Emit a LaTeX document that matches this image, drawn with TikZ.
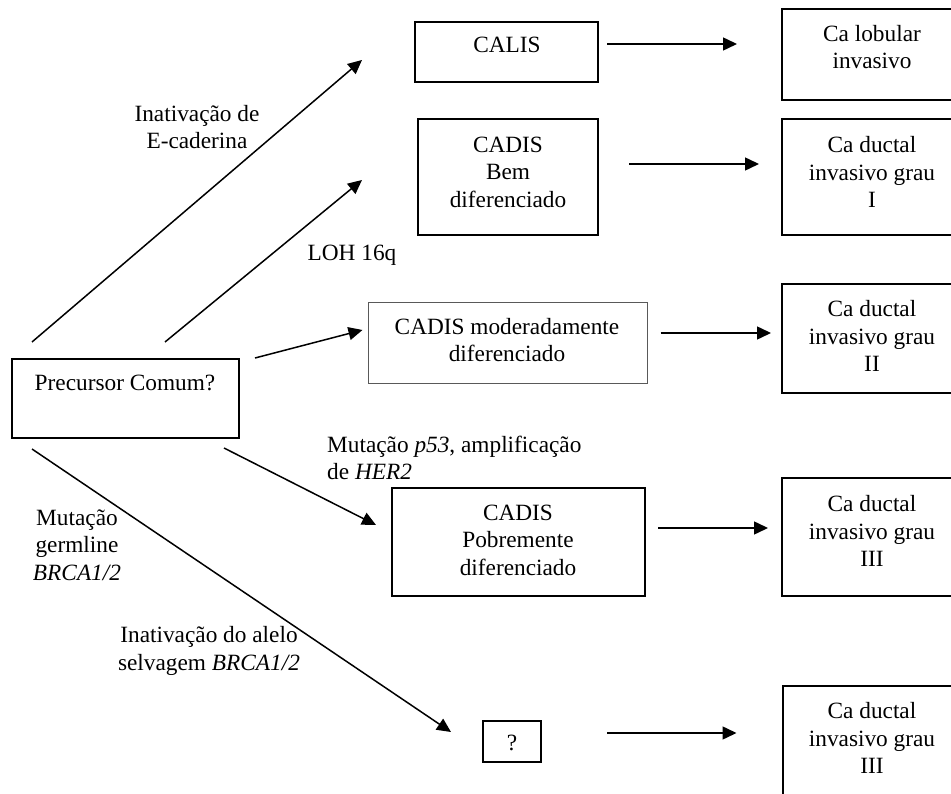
\documentclass[tikz,border=0pt]{standalone}
\usepackage{fontspec}
\setmainfont{Liberation Serif}
\usepackage{tikz}
\usetikzlibrary{arrows.meta}
\tikzstyle{every node}=[font=\fontsize{23.3}{27.5}\selectfont, inner sep=0pt]
\tikzstyle{caixa}=[draw, line width=2pt]
\tikzstyle{texto}=[align=center]
\tikzstyle{seta}=[line width=1.5pt, -{Triangle[length=14pt,width=13pt]}]

\begin{document}
\begin{tikzpicture}[x=1pt,y=-1pt]
\clip (0,0) rectangle (951,794);

% caixas
\node[caixa, minimum width=183pt, minimum height=60pt] (calis) at (506.5,52) {};
\node[caixa, minimum width=178pt, minimum height=91pt] (lob) at (871,54.5) {};
\node[caixa, minimum width=180pt, minimum height=116pt] (bem) at (508,177) {};
\node[caixa, minimum width=178pt, minimum height=116pt] (duct1) at (871,177) {};
\node[draw, gray!70!black, line width=1pt, minimum width=279pt, minimum height=81pt] (mod) at (507.5,343.5) {};
\node[caixa, minimum width=178pt, minimum height=109pt] (duct2) at (871,338.5) {};
\node[caixa, minimum width=227pt, minimum height=79pt] (prec) at (125.5,398.5) {};
\node[caixa, minimum width=253pt, minimum height=108pt] (pob) at (518.5,542) {};
\node[caixa, minimum width=178pt, minimum height=118pt] (duct3) at (871,537) {};
\node[caixa, minimum width=58pt, minimum height=41pt] (q) at (512,741.5) {};
\node[caixa, minimum width=178pt, minimum height=119pt] (duct4) at (871.5,745.5) {};

% textos das caixas
\node[texto] (calisT) at (507,45) {CALIS};
\node[texto] (lobT) at (872,47) {Ca lobular\\invasivo};
\node[texto] (bemT) at (508,172) {CADIS\\Bem\\diferenciado};
\node[texto] (duct1T) at (872,172) {Ca ductal\\invasivo grau\\I};
\node[texto] (modT) at (507,340) {CADIS moderadamente\\diferenciado};
\node[texto] (duct2T) at (872,336) {Ca ductal\\invasivo grau\\II};
\node[texto] (precT) at (125,383) {Precursor Comum?};
\node[texto] (pobT) at (518,540) {CADIS\\Pobremente\\diferenciado};
\node[texto] (duct3T) at (872,531) {Ca ductal\\invasivo grau\\III};
\node[texto] (qT) at (512,743) {?};
\node[texto] (duct4T) at (872,738) {Ca ductal\\invasivo grau\\III};

% rotulos
\node[texto] (ecad) at (197,127) {Inativação de\\E-caderina};
\node[texto] (loh) at (352,255) {LOH 16q};
\node[align=left, anchor=west] (p53) at (327,458) {Mutação \textit{p53}, amplificação\\de \textit{HER2}};
\node[texto] (germ) at (77,545) {Mutação\\germline\\\textit{BRCA1/2}};
\node[texto] (alelo) at (209,651) {Inativação do alelo\\selvagem \textit{BRCA1/2}};

% setas diagonais
\draw[seta] ([xshift=21pt,yshift=16pt]prec.north west) -- ([xshift=-52pt,yshift=-8pt]calis.west);
\draw[seta] ([xshift=154pt,yshift=16pt]prec.north west) -- ([xshift=-55pt,yshift=-3pt]bem.west);
\draw[seta] ([xshift=15pt]prec.north east) -- ([xshift=-5pt,yshift=13.5pt]mod.west);
\draw[seta] ([xshift=-16pt,yshift=-9pt]prec.south east) -- ([xshift=-15pt,yshift=17pt]pob.west);
\draw[seta] ([xshift=21pt,yshift=-10pt]prec.south west) -- ([xshift=-31pt,yshift=9.5pt]q.west);

% setas horizontais
\draw[seta] ([xshift=8pt,yshift=8pt]calis.east) -- ([xshift=-44pt,yshift=10.5pt]lob.west);
\draw[seta] ([xshift=30pt,yshift=13pt]bem.east) -- ([xshift=-22pt,yshift=13pt]duct1.west);
\draw[seta] ([xshift=13pt,yshift=10.5pt]mod.east) -- ([xshift=-10pt,yshift=5.5pt]duct2.west);
\draw[seta] ([xshift=12pt,yshift=14pt]pob.east) -- ([xshift=-13pt,yshift=9pt]duct3.west);
\draw[seta] ([xshift=65pt,yshift=8.5pt]q.east) -- ([xshift=-45pt,yshift=12.5pt]duct4.west);

\end{tikzpicture}
\end{document}
